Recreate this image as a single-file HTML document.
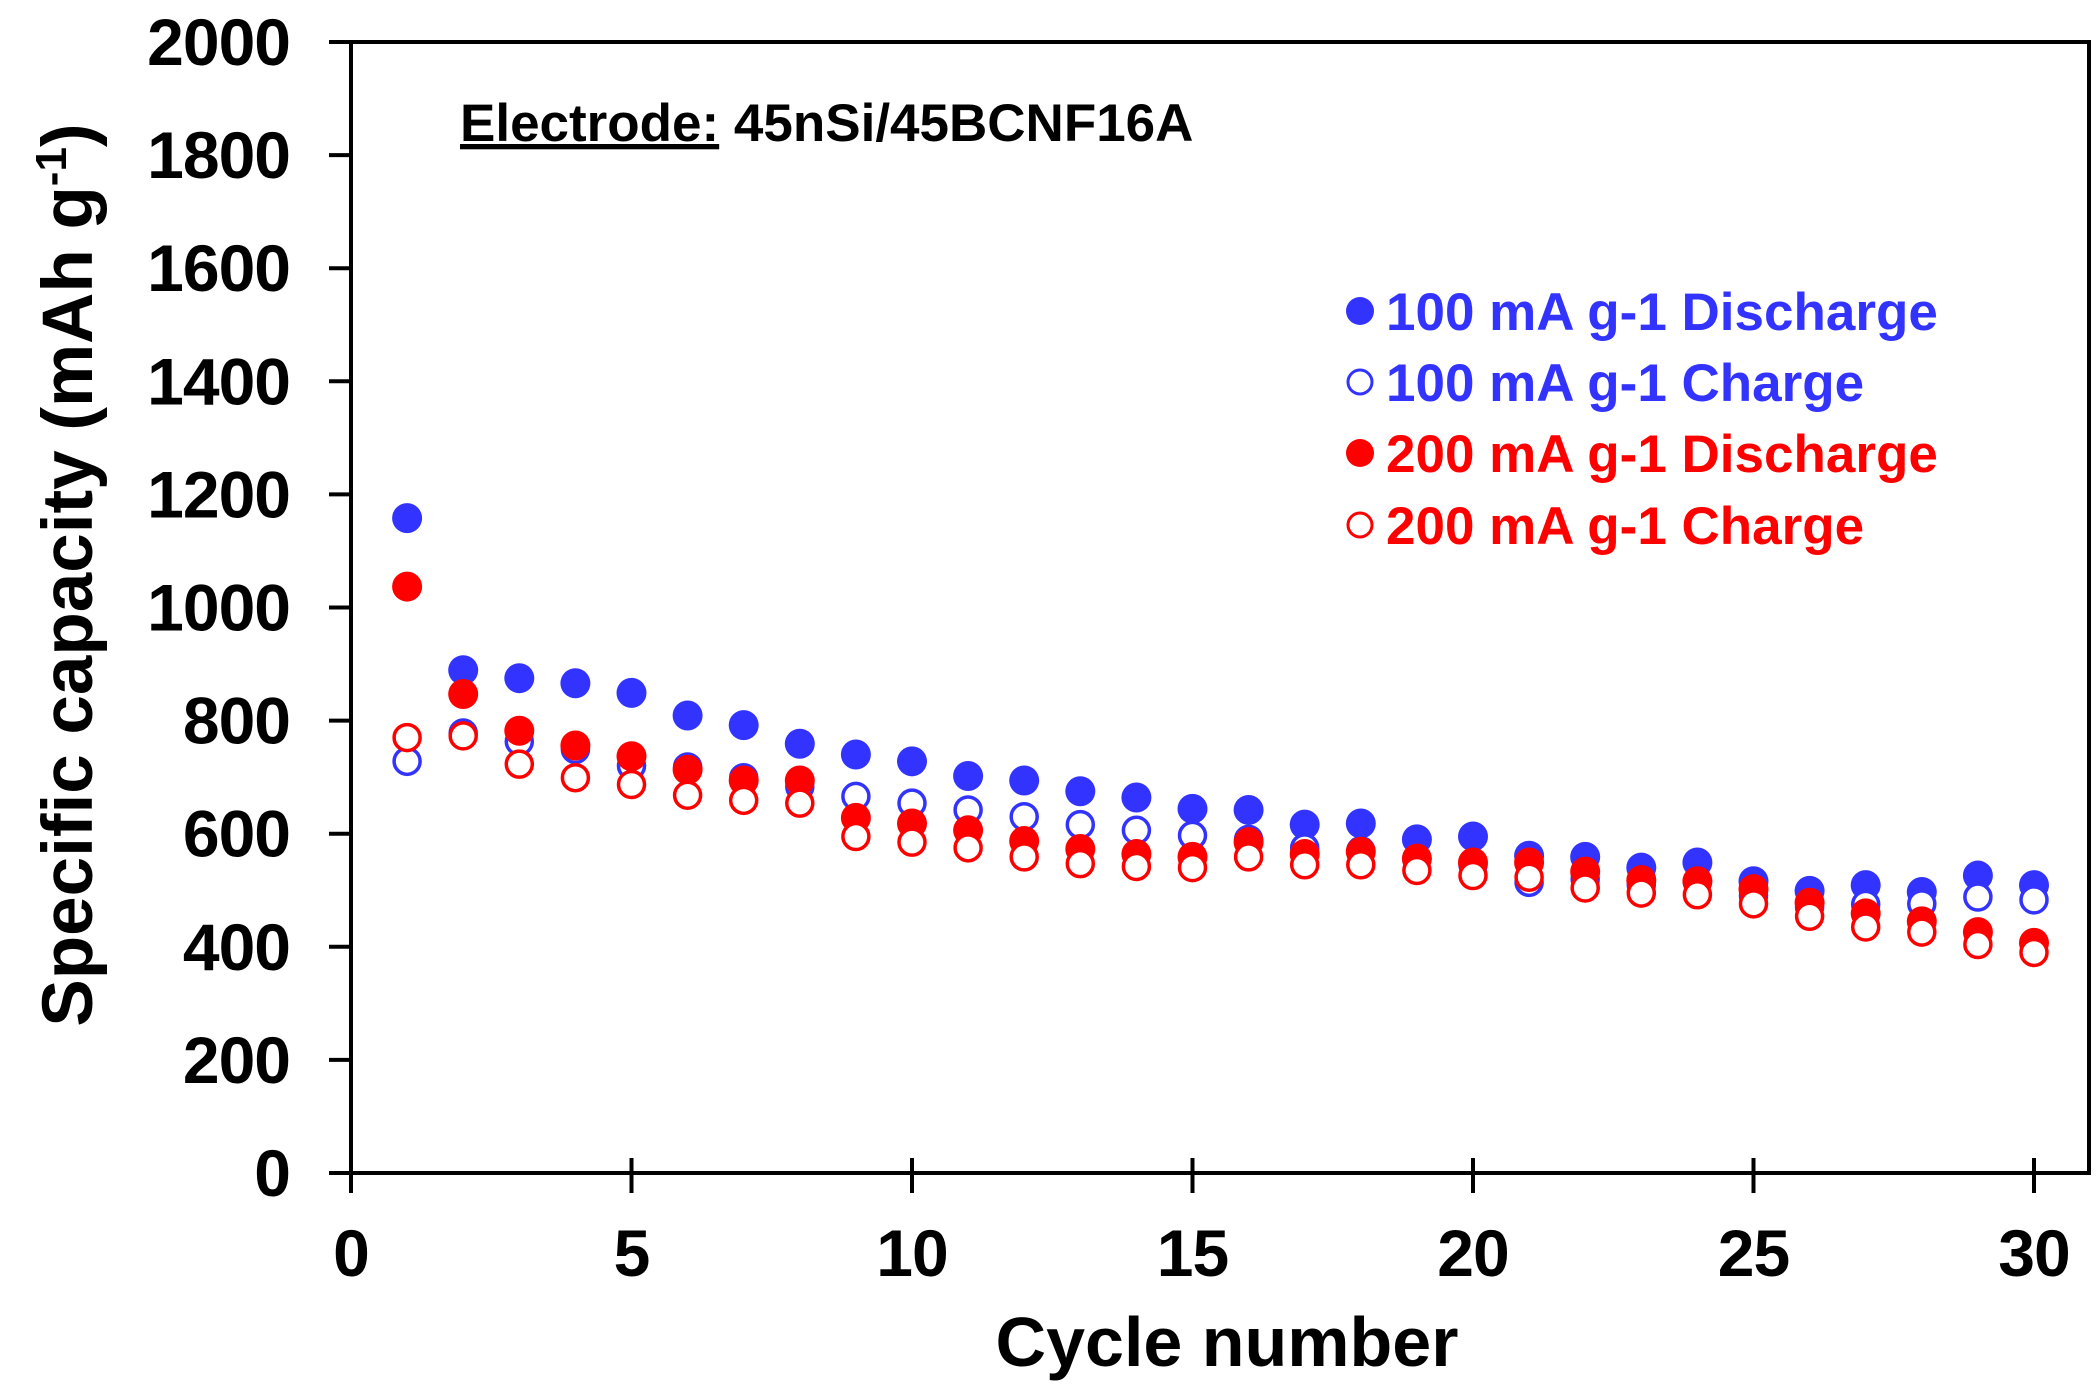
<!DOCTYPE html>
<html><head><meta charset="utf-8">
<style>
html,body{margin:0;padding:0;background:#fff;}
svg{display:block;font-family:"Liberation Sans",Arial,sans-serif;font-weight:bold;}
</style></head>
<body>
<svg id="chart" width="2098" height="1393" viewBox="0 0 2098 1393" xmlns="http://www.w3.org/2000/svg">
<g id="axes"></g>
<g id="marks"></g>
<text x="460" y="141" font-size="53"><tspan text-decoration="underline">Electrode:</tspan> 45nSi/45BCNF16A</text>
<text transform="translate(92,575) rotate(-90)" text-anchor="middle" font-size="71">Specific capacity  (mAh g<tspan dy="-26" font-size="44">-1</tspan><tspan dy="26">)</tspan></text>
<text x="1227" y="1366" text-anchor="middle" font-size="70">Cycle number</text>
<g id="legend"></g>
</svg>
<script>
const cycles = [1,2,3,4,5,6,7,8,9,10,11,12,13,14,15,16,17,18,19,20,21,22,23,24,25,26,27,28,29,30];
const dis100 = [1158,889,875,866,849,809,792,759,740,728,702,694,675,664,644,642,616,618,590,595,561,559,540,549,516,499,509,497,526,509];
const chg100 = [728,778,763,749,720,718,699,683,666,654,642,630,616,606,597,590,575,570,555,545,514,520,510,515,490,470,475,476,488,483];
const dis200 = [1037,847,782,756,737,713,694,694,628,618,606,587,573,564,559,585,564,568,556,549,549,533,518,516,502,478,459,445,426,407];
const chg200 = [770,773,723,699,687,668,659,654,595,585,575,559,547,542,540,559,545,545,535,526,523,504,495,492,476,454,435,426,404,390];
const yTicks = [0,200,400,600,800,1000,1200,1400,1600,1800,2000];
const xTicks = [0,5,10,15,20,25,30];
const legendLabels = ["100 mA g-1 Discharge","100 mA g-1 Charge","200 mA g-1 Discharge","200 mA g-1 Charge"];

const NS="http://www.w3.org/2000/svg";
const L=351,R=2089,T=42,B=1173;
const xs=v=>351+v*(2034-351)/30;
const ys=v=>B-v*(B-T)/2000;
function mk(tag,attrs,parent){const e=document.createElementNS(NS,tag);for(const k in attrs)e.setAttribute(k,attrs[k]);parent.appendChild(e);return e;}
const axes=document.getElementById('axes');
const frame=mk('rect',{x:L,y:T,width:R-L,height:B-T,fill:'none',stroke:'#000','stroke-width':4},axes);


yTicks.forEach(v=>{
  const t=mk('line',{x1:L-22,x2:L,y1:ys(v),y2:ys(v),stroke:'#000','stroke-width':4},axes);
  
  
  const tx=mk('text',{x:290,y:ys(v)+23,'text-anchor':'end','font-size':66,'letter-spacing':-1},axes);
  
  
  tx.textContent=v;
});
xTicks.forEach(v=>{
  const t=mk('line',{x1:xs(v),x2:xs(v),y1:B-15,y2:B+20,stroke:'#000','stroke-width':4},axes);
  
  
  const tx=mk('text',{x:xs(v),y:1276,'text-anchor':'middle','font-size':66,'letter-spacing':-1},axes);
  
  
  tx.textContent=v;
});
const marks=document.getElementById('marks');
const series=[[dis100,'#3333ff',true,'dis-100'],[chg100,'#3333ff',false,'chg-100'],[dis200,'#ff0000',true,'dis-200'],[chg200,'#ff0000',false,'chg-200']];
series.forEach(([data,col,filled,name])=>{
  data.forEach((v,i)=>{
    const c=mk('circle',{cx:xs(cycles[i]),cy:ys(v),r:filled?15:13,fill:filled?col:'#fff',stroke:col,'stroke-width':filled?0:3.5},marks);
    
    
  });
});
const lg=document.getElementById('legend');
const lgY=[311,382,453,525];
series.forEach(([d,col,filled],i)=>{
  const c=mk('circle',{cx:1360,cy:lgY[i],r:filled?14:12,fill:filled?col:'#fff',stroke:col,'stroke-width':filled?0:3},lg);
  
  
  const t=mk('text',{x:1386,y:lgY[i]+19,'font-size':53,fill:col},lg);
  
  
  t.textContent=legendLabels[i];
});
</script>
</body></html>
